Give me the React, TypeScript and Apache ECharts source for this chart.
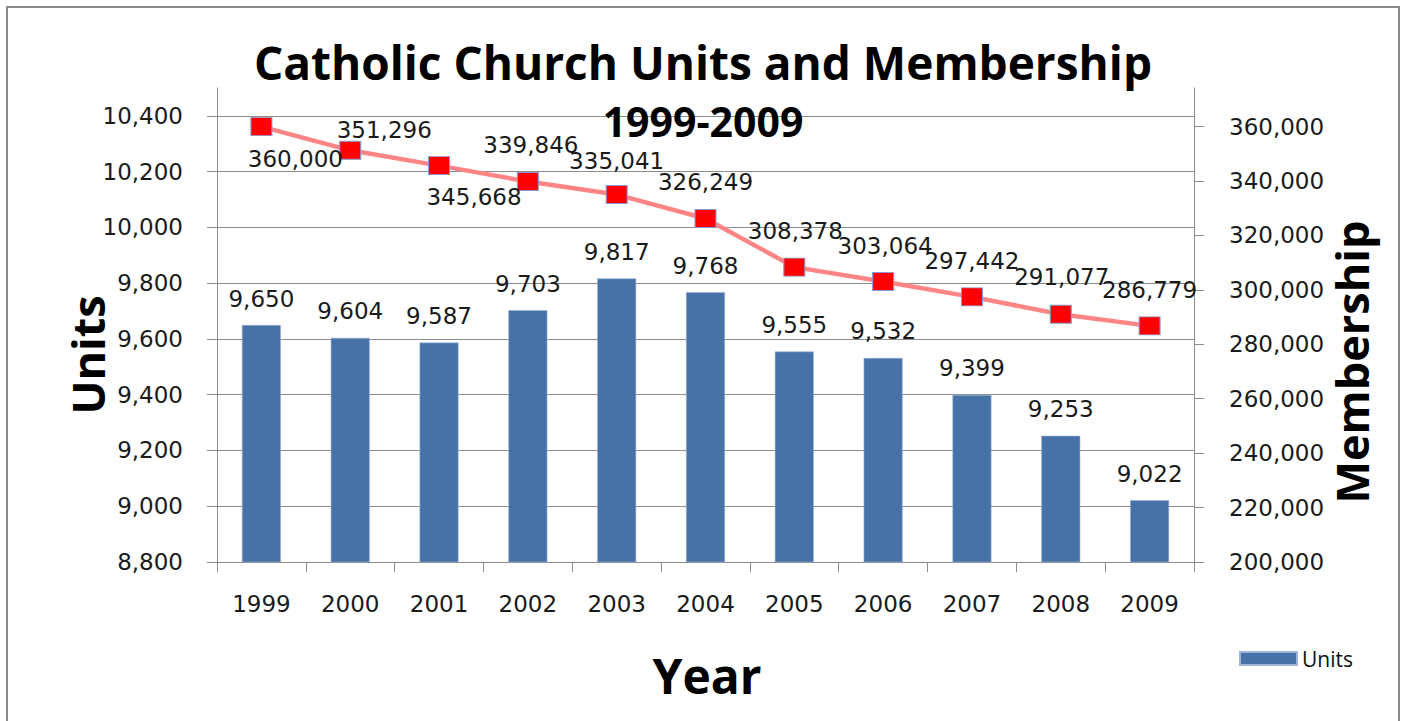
import React, { useEffect, useRef } from "react";
import * as echarts from "echarts";

const years = ["1999", "2000", "2001", "2002", "2003", "2004", "2005", "2006", "2007", "2008", "2009"];
const units = [9650, 9604, 9587, 9703, 9817, 9768, 9555, 9532, 9399, 9253, 9022];
const membership = [360000, 351296, 345668, 339846, 335041, 326249, 308378, 303064, 297442, 291077, 286779];
const unitsTicks = [8800, 9000, 9200, 9400, 9600, 9800, 10000, 10200, 10400];
const memberTicks = [200000, 220000, 240000, 260000, 280000, 300000, 320000, 340000, 360000];

// label placement (offset of label centre from marker centre), styling only
const memberLabelOffsets: number[][] = [
  [34, 32], [34, -20], [35, 31], [3, -36], [0, -34], [0, -36],
  [1, -36], [2, -36], [0, -36], [1, -37], [0, -36],
];

const fmt = (v: number) => v.toLocaleString("en-US");
const LABEL_FONT = "DejaVu Sans";
const BOLD_FONT = "Open Sans";
const GRID = "#8c8c8c";

export default function App() {
  const ref = useRef<HTMLDivElement>(null);
  useEffect(() => {
    if (!ref.current) return;
    const chart = echarts.init(ref.current, null, { renderer: "svg" });
    const option: any = {
      animation: false,
      backgroundColor: "#ffffff",
      grid: { left: 217, right: 207, top: 88, bottom: 159, containLabel: false },
      legend: {
        data: ["Units"],
        left: 1234,
        top: 643,
        icon: "rect",
        itemWidth: 57,
        itemHeight: 13,
        itemGap: 6,
        textStyle: { fontFamily: BOLD_FONT, fontSize: 21, color: "#111" },
      },
      xAxis: {
        type: "category",
        data: years,
        boundaryGap: true,
        axisLine: { lineStyle: { color: GRID, width: 1 } },
        axisTick: { show: true, length: 10, lineStyle: { color: GRID } },
        axisLabel: { fontFamily: LABEL_FONT, fontSize: 23, color: "#1a1a1a", margin: 30 },
      },
      yAxis: [
        {
          type: "value",
          min: 8800,
          max: 10500,
          interval: 200,
          position: "left",
          axisLine: { show: true, lineStyle: { color: GRID, width: 1 } },
          axisTick: { show: true, length: 10, lineStyle: { color: GRID }, customValues: unitsTicks },
          splitLine: { show: true, lineStyle: { color: GRID, width: 1 } },
          axisLabel: {
            fontFamily: LABEL_FONT,
            fontSize: 23,
            color: "#1a1a1a",
            margin: 34,
            customValues: unitsTicks,
            formatter: (v: number) => fmt(v),
          },
        },
        {
          type: "value",
          min: 200000,
          max: 374200,
          interval: 20000,
          position: "right",
          axisLine: { show: true, lineStyle: { color: GRID, width: 1 } },
          axisTick: { show: true, length: 10, lineStyle: { color: GRID }, customValues: memberTicks },
          splitLine: { show: false },
          axisLabel: {
            fontFamily: LABEL_FONT,
            fontSize: 23,
            color: "#1a1a1a",
            margin: 35,
            customValues: memberTicks,
            formatter: (v: number) => fmt(v),
          },
        },
      ],
      series: [
        {
          name: "Units",
          type: "bar",
          yAxisIndex: 0,
          data: units,
          barWidth: 39,
          itemStyle: { color: "#4672A7", borderColor: "#9fb4d6", borderWidth: 0.6 },
          label: {
            show: true,
            position: "top",
            distance: 15,
            fontFamily: LABEL_FONT,
            fontSize: 23,
            color: "#1a1a1a",
            formatter: (p: any) => fmt(p.value),
          },
          z: 2,
        },
        {
          name: "Membership",
          type: "line",
          yAxisIndex: 1,
          data: membership.map((v, i) => ({
            value: v,
            label: { offset: memberLabelOffsets[i] },
          })),
          symbol: "rect",
          symbolSize: [21, 18],
          lineStyle: { color: "#FF8585", width: 4.5 },
          itemStyle: { color: "#FF0000", borderColor: "#8a9bd4", borderWidth: 1 },
          label: {
            show: true,
            position: "inside",
            fontFamily: LABEL_FONT,
            fontSize: 23,
            color: "#1a1a1a",
            formatter: (p: any) => fmt(p.value),
          },
          z: 3,
        },
      ],
      graphic: [
        {
          type: "rect",
          shape: { x: 7, y: 7, width: 1392, height: 730 },
          style: { fill: "none", stroke: "#8a8a8a", lineWidth: 2 },
          silent: true,
          z: 0,
        },
        {
          type: "text",
          x: 703,
          y: 62,
          style: {
            text: "Catholic Church Units and Membership",
            font: `bold 46px "${BOLD_FONT}"`,
            fill: "#000",
            textAlign: "center",
            textVerticalAlign: "middle",
          },
          z: 10,
        },
        {
          type: "text",
          x: 703,
          y: 121,
          style: {
            text: "1999-2009",
            font: `bold 41px "${BOLD_FONT}"`,
            fill: "#000",
            textAlign: "center",
            textVerticalAlign: "middle",
          },
          z: 10,
        },
        {
          type: "text",
          x: 87,
          y: 355,
          rotation: Math.PI / 2,
          style: {
            text: "Units",
            font: `bold 45px "${BOLD_FONT}"`,
            fill: "#000",
            textAlign: "center",
            textVerticalAlign: "middle",
          },
          z: 10,
        },
        {
          type: "text",
          x: 1351,
          y: 362,
          rotation: Math.PI / 2,
          style: {
            text: "Membership",
            font: `bold 45px "${BOLD_FONT}"`,
            fill: "#000",
            textAlign: "center",
            textVerticalAlign: "middle",
          },
          z: 10,
        },
        {
          type: "text",
          x: 707,
          y: 675,
          style: {
            text: "Year",
            font: `bold 48px "${BOLD_FONT}"`,
            fill: "#000",
            textAlign: "center",
            textVerticalAlign: "middle",
          },
          z: 10,
        },
      ],
    };
    chart.setOption(option);
    return () => chart.dispose();
  }, []);
  return (
    <div
      ref={ref}
      style={{ position: "fixed", left: 0, top: 0, width: 1401, height: 721, background: "#fff" }}
    />
  );
}
